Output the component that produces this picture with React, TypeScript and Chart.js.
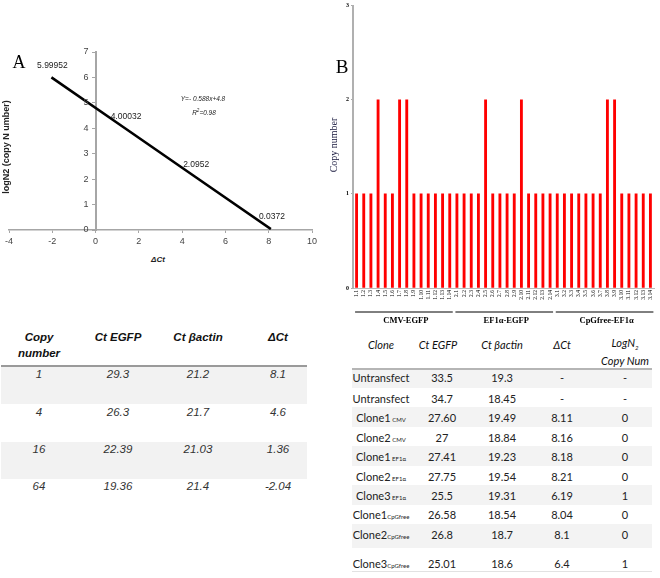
import React, { useEffect, useRef } from "react";
import { Chart, registerables } from "chart.js";

Chart.register(...registerables);

// ---------- Panel A: standard curve ----------
const deltaCt = [-2.04, 1.36, 4.6, 8.1];
const fittedLogN = [5.99952, 4.00032, 2.0952, 0.0372];
const fitLabels = ["5.99952", "4.00032", "2.0952", "0.0372"];
const equationText = "Y=- 0.588x+4.8";
const r2Value = "=0.98";

// ---------- Panel B: copy number per clone ----------
const cloneLabels = [
  "1.1", "1.2", "1.3", "1.4", "1.5", "1.6", "1.7", "1.8", "1.9", "1.10", "1.11", "1.12", "1.13", "1.14",
  "2.1", "2.2", "2.3", "2.4", "2.5", "2.6", "2.7", "2.8", "2.9", "2.10", "2.11", "2.12", "2.13", "2.14",
  "3.1", "3.2", "3.3", "3.4", "3.5", "3.6", "3.7", "3.8", "3.9", "3.10", "3.11", "3.12", "3.13", "3.14",
];
const copyNumbers = [
  1, 1, 1, 2, 1, 1, 2, 2, 1, 1, 1, 1, 1, 1,
  1, 1, 1, 1, 2, 1, 1, 1, 1, 2, 1, 1, 1, 1,
  1, 1, 1, 1, 1, 1, 1, 2, 2, 1, 1, 1, 1, 1,
];
const groupNames = ["CMV-EGFP", "EF1α-EGFP", "CpGfree-EF1α"];
const groupSize = 14;

// ---------- Table A ----------
const stdHeaders = ["Ct EGFP", "Ct βactin", "ΔCt"];
const stdCopy = ["1", "4", "16", "64"];
const stdCtEGFP = ["29.3", "26.3", "22.39", "19.36"];
const stdCtActin = ["21.2", "21.7", "21.03", "21.4"];
const stdDelta = ["8.1", "4.6", "1.36", "-2.04"];

// ---------- Table B ----------
const cloneNames = ["Untransfect", "Untransfect", "Clone1", "Clone2", "Clone1", "Clone2", "Clone3", "Clone1", "Clone2", "Clone3"];
const cloneSubs = ["", "", " CMV", " CMV", " EF1α", " EF1α", " EF1α", "CpGfree", "CpGfree", "CpGfree"];
const cloneCtEGFP = ["33.5", "34.7", "27.60", "27", "27.41", "27.75", "25.5", "26.58", "26.8", "25.01"];
const cloneCtActin = ["19.3", "18.45", "19.49", "18.84", "19.23", "19.54", "19.31", "18.54", "18.7", "18.6"];
const cloneDelta = ["-", "-", "8.11", "8.16", "8.18", "8.21", "6.19", "8.04", "8.1", "6.4"];
const cloneLog = ["-", "-", "0", "0", "0", "0", "1", "0", "0", "1"];

const SANS = '"Liberation Sans", Arial, sans-serif';
const SERIF = '"Liberation Serif", "Times New Roman", serif';
const CAL = 'Lato, "Open Sans", sans-serif';

const T = ({ x, y, children, style }: any) => (
  <div
    style={{
      position: "absolute",
      left: x,
      top: y,
      transform: "translate(-50%, -50%)",
      whiteSpace: "nowrap",
      lineHeight: 1,
      ...style,
    }}
  >
    {children}
  </div>
);

const pointLabelPlugin = {
  id: "pointLabels",
  afterDatasetsDraw(chart: any) {
    const ctx = chart.ctx;
    const meta = chart.getDatasetMeta(0);
    ctx.save();
    ctx.font = `8.5px ${SANS}`;
    ctx.fillStyle = "#222";
    ctx.textAlign = "center";
    ctx.textBaseline = "middle";
    meta.data.forEach((el: any, i: number) => {
      ctx.fillText(fitLabels[i], el.x + 1, el.y - 12);
    });
    // y-axis tick labels, placed left of the crossing axis
    const ys = chart.scales.y;
    const x0 = chart.scales.x.getPixelForValue(0);
    ctx.font = `9px ${SANS}`;
    ctx.fillStyle = "#444";
    ctx.textAlign = "right";
    ys.ticks.forEach((t: any) => {
      ctx.fillText(String(t.value), x0 - 7, ys.getPixelForValue(t.value));
    });
    ctx.restore();
  },
};

const groupPlugin = {
  id: "groups",
  afterDraw(chart: any) {
    const ctx = chart.ctx;
    const xs = chart.scales.x;
    ctx.save();
    ctx.strokeStyle = "#000";
    ctx.lineWidth = 1;
    ctx.fillStyle = "#000";
    ctx.font = `bold 8.5px ${SERIF}`;
    ctx.textAlign = "center";
    ctx.textBaseline = "middle";
    groupNames.forEach((name, gi) => {
      const i0 = gi * groupSize;
      const i1 = i0 + groupSize - 1;
      const x0 = xs.getPixelForValue(i0) - 1.5;
      const x1 = xs.getPixelForValue(i1) + 3;
      ctx.beginPath();
      ctx.moveTo(x0, 312);
      ctx.lineTo(x1, 312);
      ctx.stroke();
      ctx.fillText(name, (x0 + x1) / 2 + 2, 321);
    });
    ctx.restore();
  },
};

export default function App() {
  const refA = useRef<HTMLCanvasElement>(null);
  const refB = useRef<HTMLCanvasElement>(null);

  useEffect(() => {
    const chartA = new Chart(refA.current as HTMLCanvasElement, {
      type: "scatter",
      data: {
        datasets: [
          {
            data: deltaCt.map((x, i) => ({ x, y: fittedLogN[i] })),
            showLine: true,
            borderColor: "#000",
            borderWidth: 2.6,
            pointRadius: 0,
          },
        ],
      },
      options: {
        animation: false,
        responsive: false,
        maintainAspectRatio: false,
        layout: { padding: { left: 9, right: 18, top: 52, bottom: 0 } },
        plugins: { legend: { display: false }, tooltip: { enabled: false } },
        scales: {
          x: {
            type: "linear",
            min: -4,
            max: 10,
            ticks: { stepSize: 2, font: { family: SANS, size: 9 }, color: "#444", padding: 3 },
            grid: { drawOnChartArea: false, tickLength: 3, color: "#a6a6a6" },
            border: { color: "#a6a6a6", width: 1.5 },
            afterFit: (s: any) => {
              s.height = 20;
            },
          },
          y: {
            type: "linear",
            min: 0,
            max: 7,
            position: { x: 0 } as any,
            ticks: { stepSize: 1, display: false },
            grid: { drawOnChartArea: false, tickLength: 3, color: "#a6a6a6" },
            border: { color: "#a6a6a6", width: 2 },
          },
        },
      } as any,
      plugins: [pointLabelPlugin],
    });

    const chartB = new Chart(refB.current as HTMLCanvasElement, {
      type: "bar",
      data: {
        labels: cloneLabels,
        datasets: [{ data: copyNumbers, backgroundColor: "#ff0000", barThickness: 2.2 }],
      },
      options: {
        animation: false,
        responsive: false,
        maintainAspectRatio: false,
        layout: { padding: { left: 0, right: 6, top: 5, bottom: 20 } },
        plugins: { legend: { display: false }, tooltip: { enabled: false } },
        scales: {
          x: {
            ticks: {
              autoSkip: false,
              minRotation: 90,
              maxRotation: 90,
              font: { family: SERIF, size: 5.5 },
              color: "#000",
              padding: 2,
            },
            grid: { drawOnChartArea: false, drawTicks: false, color: "#bbb" },
            border: { color: "#bbb", width: 1 },
            afterFit: (s: any) => {
              s.height = 22;
            },
          },
          y: {
            min: 0,
            max: 3,
            ticks: { stepSize: 1, font: { family: SERIF, size: 6, weight: "bold" }, color: "#000", padding: 2 },
            grid: { drawOnChartArea: false, tickLength: 2, color: "#aaa" },
            border: { color: "#b0b0b0", width: 2 },
            afterFit: (s: any) => {
              s.width = 23;
            },
          },
        },
      } as any,
      plugins: [groupPlugin],
    });

    return () => {
      chartA.destroy();
      chartB.destroy();
    };
  }, []);

  const stdRowsY = [375, 413, 450, 487];
  const stdCols = [39, 118, 198, 278];
  const cloneRowsY = [377, 398, 417, 437, 456, 476, 495, 514, 534, 563];
  const cloneCols = [381, 442, 502, 562, 625];
  const cloneBands = [
    [369, 388],
    [407, 427],
    [446, 466],
    [485, 505],
    [524, 548],
  ];

  const headStyleA = { fontFamily: SANS, fontStyle: "italic", fontWeight: "bold", fontSize: 11.5, color: "#111" };
  const cellStyleA = { fontFamily: SANS, fontStyle: "italic", fontSize: 11.5, color: "#333" };
  const headStyleB = { fontFamily: CAL, fontStyle: "italic", fontSize: 11, color: "#111" };
  const cellStyleB = { fontFamily: CAL, fontSize: 11, color: "#222" };

  return (
    <div
      style={{
        position: "absolute",
        left: 0,
        top: 0,
        width: 660,
        height: 578,
        background: "#fff",
        overflow: "hidden",
      }}
    >
      <canvas
        ref={refA}
        width={330}
        height={250}
        style={{ position: "absolute", left: 0, top: 0, width: 330, height: 250 }}
      />
      <canvas
        ref={refB}
        width={330}
        height={330}
        style={{ position: "absolute", left: 330, top: 0, width: 330, height: 330 }}
      />

      {/* Panel A annotations */}
      <T x={19} y={62} style={{ fontFamily: SERIF, fontSize: 18, color: "#000" }}>A</T>
      <T x={6} y={147} style={{ fontFamily: SANS, fontSize: 9, fontWeight: "bold", color: "#222", transform: "translate(-50%, -50%) rotate(-90deg)" }}>
        logN2 (copy N umber)
      </T>
      <T x={158} y={260} style={{ fontFamily: SANS, fontSize: 8, fontWeight: "bold", fontStyle: "italic", color: "#222" }}>
        ΔCt
      </T>
      <T x={203} y={99} style={{ fontFamily: SANS, fontSize: 6.5, fontStyle: "italic", color: "#222" }}>
        {equationText}
      </T>
      <T x={204} y={113} style={{ fontFamily: SANS, fontSize: 6.5, fontStyle: "italic", color: "#222" }}>
        R<sup style={{ fontSize: 4.5 }}>2</sup>
        {r2Value}
      </T>

      {/* Panel B annotations */}
      <T x={342} y={66} style={{ fontFamily: SERIF, fontSize: 19, color: "#000" }}>B</T>
      <T x={334} y={145} style={{ fontFamily: SERIF, fontSize: 10, color: "#14143a", transform: "translate(-50%, -50%) rotate(-90deg)" }}>
        Copy number
      </T>

      {/* Table A */}
      <T x={stdCols[0]} y={338} style={headStyleA}>Copy</T>
      <T x={stdCols[0]} y={354} style={headStyleA}>number</T>
      {stdHeaders.map((h, i) => (
        <T key={h} x={stdCols[i + 1]} y={338} style={headStyleA}>{h}</T>
      ))}
      <div style={{ position: "absolute", left: 1, top: 365, width: 306, height: 1.5, background: "#9a9a9a" }} />
      <div style={{ position: "absolute", left: 1, top: 367, width: 306, height: 37, background: "#f2f2f2" }} />
      <div style={{ position: "absolute", left: 1, top: 442, width: 306, height: 37, background: "#f2f2f2" }} />
      {stdCopy.map((c, i) => (
        <React.Fragment key={"s" + i}>
          <T x={stdCols[0]} y={stdRowsY[i]} style={cellStyleA}>{c}</T>
          <T x={stdCols[1]} y={stdRowsY[i]} style={cellStyleA}>{stdCtEGFP[i]}</T>
          <T x={stdCols[2]} y={stdRowsY[i]} style={cellStyleA}>{stdCtActin[i]}</T>
          <T x={stdCols[3]} y={stdRowsY[i]} style={cellStyleA}>{stdDelta[i]}</T>
        </React.Fragment>
      ))}

      {/* Table B */}
      <T x={cloneCols[0]} y={344} style={headStyleB}>Clone</T>
      <T x={cloneCols[1] - 4} y={344} style={headStyleB}>Ct EGFP</T>
      <T x={cloneCols[2]} y={344} style={headStyleB}>Ct βactin</T>
      <T x={cloneCols[3]} y={344} style={headStyleB}>ΔCt</T>
      <T x={cloneCols[4]} y={344} style={headStyleB}>
        LogN<sub style={{ fontSize: 6 }}>2</sub>
      </T>
      <T x={cloneCols[4]} y={360} style={headStyleB}>Copy Num</T>
      {cloneBands.map((b, i) => (
        <div key={"b" + i} style={{ position: "absolute", left: 352, top: b[0], width: 300, height: b[1] - b[0], background: "#f3f3f3" }} />
      ))}
      <div style={{ position: "absolute", left: 352, top: 368, width: 300, height: 1.5, background: "#b5b5b5" }} />
      <div style={{ position: "absolute", left: 352, top: 571, width: 300, height: 1, background: "#e2e2e2" }} />
      {cloneNames.map((n, i) => (
        <React.Fragment key={"c" + i}>
          <T x={cloneCols[0]} y={cloneRowsY[i]} style={cellStyleB}>
            {n}
            {cloneSubs[i] ? <span style={{ fontSize: 6 }}>{cloneSubs[i]}</span> : null}
          </T>
          <T x={cloneCols[1]} y={cloneRowsY[i]} style={cellStyleB}>{cloneCtEGFP[i]}</T>
          <T x={cloneCols[2]} y={cloneRowsY[i]} style={cellStyleB}>{cloneCtActin[i]}</T>
          <T x={cloneCols[3]} y={cloneRowsY[i]} style={cellStyleB}>{cloneDelta[i]}</T>
          <T x={cloneCols[4]} y={cloneRowsY[i]} style={cellStyleB}>{cloneLog[i]}</T>
        </React.Fragment>
      ))}
    </div>
  );
}
